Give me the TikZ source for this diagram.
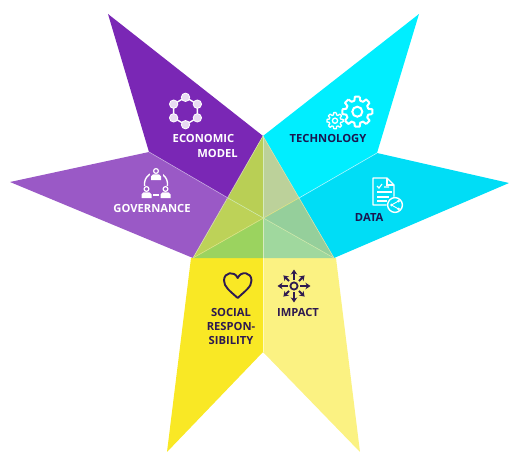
\documentclass[tikz,border=0pt]{standalone}
\usepackage{fontspec}
\setmainfont{Open Sans}
\usetikzlibrary{arrows.meta}
\definecolor{navy}{HTML}{1B1650}
\definecolor{plum}{HTML}{2E1A50}
\definecolor{gover}{HTML}{9A59C6}
\definecolor{econ}{HTML}{7A27B5}
\definecolor{tech}{HTML}{00EEFF}
\definecolor{datac}{HTML}{00DDF6}
\definecolor{soc}{HTML}{F9E825}
\definecolor{impc}{HTML}{FBF282}
\definecolor{triA}{HTML}{B9CF55}
\definecolor{triB}{HTML}{BDD258}
\definecolor{triC}{HTML}{9BD35F}
\definecolor{triD}{HTML}{A0D89E}
\definecolor{triE}{HTML}{95CF9B}
\definecolor{triF}{HTML}{BCD19A}
\definecolor{seamA}{HTML}{D7E1AA}
\definecolor{seamB}{HTML}{D7EBBE}
\definecolor{seamC}{HTML}{DEE282}
\definecolor{seamD}{HTML}{CDE8AA}
\definecolor{seamE}{HTML}{C8AAE1}
\definecolor{seamF}{HTML}{AAF5FF}
\definecolor{seamG}{HTML}{FFFABE}
\definecolor{hexfill}{HTML}{E8DAF2}
\tikzset{
  seam/.style={line width=0.6pt,draw=#1},
  lab/.style={font=\bfseries\fontsize{11.2}{14.3}\selectfont,inner sep=0pt,align=center,anchor=center},
  iconw/.style={draw=white,line width=1.4pt},
  iconn/.style={draw=plum,line width=1.8pt},
  imparrow/.style={plum,line width=1.8pt,-{Stealth[length=5pt,width=6.5pt]}},
}
\begin{document}
\begin{tikzpicture}[x=1pt,y=-1pt]
\useasboundingbox (0,0) rectangle (509,452);
% key points
\coordinate (T) at (263,136);
\coordinate (C) at (263,218);
\coordinate (BL) at (193,258);
\coordinate (BR) at (334,258);
\coordinate (BM) at (263,258);
\coordinate (LM) at (228,198);
\coordinate (RM) at (299,198);
\coordinate (NL) at (149,152);
\coordinate (NR) at (377,153);
% petals
\fill[gover] (10,182) -- (NL) -- (LM) -- (BL) -- cycle;
\fill[econ] (108,14) -- (T) -- (LM) -- (NL) -- cycle;
\fill[tech] (419,14) -- (NR) -- (RM) -- (T) -- cycle;
\fill[datac] (509,183) -- (NR) -- (RM) -- (BR) -- cycle;
\fill[soc] (191,258) -- (BM) -- (263,352) -- (167,452) -- cycle;
\fill[impc] (BM) -- (336,258) -- (360,452) -- (263,352) -- cycle;
% centre triangle
\fill[triA] (T) -- (C) -- (LM) -- cycle;
\fill[triB] (LM) -- (C) -- (BL) -- cycle;
\fill[triC] (BL) -- (C) -- (BM) -- cycle;
\fill[triD] (BM) -- (C) -- (BR) -- cycle;
\fill[triE] (BR) -- (C) -- (RM) -- cycle;
\fill[triF] (RM) -- (C) -- (T) -- cycle;
% seams
\draw[seam=seamA] (T) -- (BL) (T) -- (BR);
\draw[seam=seamB] (T) -- (BM);
\draw[seam=seamC] (BL) -- (RM);
\draw[seam=seamD] (LM) -- (BR);
\draw[seam=seamE] (NL) -- (LM);
\draw[seam=seamF] (NR) -- (RM);
\draw[seam=seamG] (BM) -- (263,352);
% economic icon
\begin{scope}[shift={(185.5,111)}]
  \draw[iconw] (90:13.7) -- (30:13.7) -- (-30:13.7) -- (-90:13.7) -- (-150:13.7) -- (150:13.7) -- cycle;
  \foreach \a in {30,90,...,330}
    \fill[hexfill,draw=white,line width=0.8pt] (\a:13.7) circle (4.2);
\end{scope}
% governance icon
\begin{scope}[shift={(156,184)}]
  \draw[iconw] plot[smooth,domain=-200:20,samples=30] ({11.5*cos(\x)},{11.5*sin(\x)});
  \draw[iconw] (-5,11) -- (5,11);
  \foreach \x/\y in {0/-10,-9.5/8,9.5/8}{
    \fill[gover] (\x-6.5,\y+7) rectangle (\x+6.5,\y-6.5);
    \draw[draw=white,line width=1.2pt] (\x,\y-3) circle (2.4);
    \fill[white] (\x-5,\y+6) -- (\x-5,\y+2.5) -- (\x-3,\y+0.3) -- (\x+3,\y+0.3) -- (\x+5,\y+2.5) -- (\x+5,\y+6) -- cycle;
  }
\end{scope}
% gears
\foreach \cx/\cy/\ro/\ri/\rh/\lw in {357.3/111.7/15.2/11.4/5/2, 335/120.7/8.2/6/2.6/1.3}{
  \begin{scope}[shift={(\cx,\cy)}]
    \foreach \k in {0,1,...,7}{
      \draw[draw=white,line width=\lw pt,line join=round]
        ({\k*45+9}:\ro) -- ({\k*45+15}:\ri) -- ({\k*45+30}:\ri) -- ({\k*45+36}:\ro) -- ({\k*45+54}:\ro);
    }
    \draw[draw=white,line width=\lw pt] (0,0) circle (\rh);
  \end{scope}
}
% data icon
\draw[iconw,line join=round] (388,205) -- (373,205) -- (373,178) -- (387,178) -- (394,185) -- (394,198);
\draw[iconw,line width=1.1pt] (387,178) -- (387,185) -- (394,185);
\draw[iconw,line width=1.1pt] (377,186) -- (379,188) -- (382,184) (384,187) -- (389,187);
\draw[iconw,line width=1.1pt] (377,192) -- (392,192) (377,197) -- (389,197) (377,201) -- (387,201);
\fill[datac] (395,205) circle (8.5);
\draw[iconw] (395,205) circle (7.4);
\draw[draw=white,line width=0.9pt] (398.5,201) -- (391.5,205) -- (398.5,209);
\foreach \p in {(398.5,201),(391.5,205),(398.5,209)} \fill[white] \p circle (1.5);
% heart
\draw[iconn,line width=1.9pt,line join=round] (237.7,298)
  .. controls (230,291) and (224,287) .. (224,280.5)
  .. controls (224,272) and (234.5,270.5) .. (237.7,278)
  .. controls (241,270.5) and (251.5,272) .. (251.5,280.5)
  .. controls (251.5,287) and (245,291) .. (237.7,298) -- cycle;
% impact
\begin{scope}[shift={(294,286)}]
  \draw[iconn] (0,0) circle (3.6);
  \foreach \a in {0,90,180,270} \draw[imparrow] (\a:6) -- (\a:16.5);
  \foreach \a in {45,135,225,315} \draw[imparrow] (\a:7) -- (\a:15);
\end{scope}
% labels
\node[lab,text=white] (econ1) at (203.5,138.7) {ECONOMIC};
\node[lab,text=white] (econ2) at (217.5,153) {MODEL};
\node[lab,text=white] (gov) at (152,208) {GOVERNANCE};
\node[lab,text=navy] (techl) at (328,138.5) {TECHNOLOGY};
\node[lab,text=navy] (datal) at (369.2,217) {DATA};
\node[lab,text=plum] (socl) at (231,326.5) {SOCIAL\\RESPON-\\SIBILITY};
\node[lab,text=plum] (imp) at (298,312) {IMPACT};
\end{tikzpicture}
\end{document}
